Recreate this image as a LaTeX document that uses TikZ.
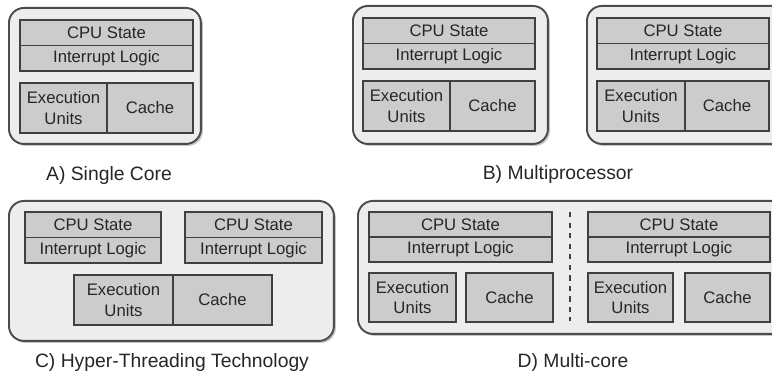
\documentclass[tikz,border=0pt]{standalone}
\usepackage{fontspec}
\setmainfont{Liberation Sans}
\usetikzlibrary{positioning,shadows}

\begin{document}
\begin{tikzpicture}[
    x=0.02cm, y=-0.02cm,
    unit/.style={draw=black!75,line width=1pt,fill=black!20,text=black!85,inner sep=0pt,outer sep=0pt,align=center,font=\fontsize{9.5}{11.5}\selectfont},
    state/.style={unit,minimum height=0.51cm},
    core/.style={unit,minimum height=1cm,anchor=north west},
    chip/.style={draw=black!70,line width=1.1pt,fill=black!7,rounded corners=0.3cm,anchor=north west,
        drop shadow={shadow xshift=0.04cm,shadow yshift=-0.04cm,fill=black!45}},
    caption/.style={text=black!85,font=\fontsize{11}{13}\selectfont},
    divider/.style={draw=black!75,line width=1.2pt,dash pattern=on 3pt off 3pt},
]
    \useasboundingbox (0,0) rectangle (772,375);
    \clip (0,0) rectangle (772,375);

    %single core
    \node[chip,minimum width=3.84cm,minimum height=2.72cm] (a) at (8,7) {};
    \node[state,minimum width=3.46cm,anchor=north west] (a-state) at (20,20) {CPU State};
    \node[state,minimum width=3.46cm,below=0pt of a-state] (a-int) {Interrupt Logic};
    \node[core,minimum width=1.74cm] (a-exec) at (20,83) {Execution\\Units};
    \node[core,minimum width=1.72cm,right=0pt of a-exec,anchor=west] (a-cache) {Cache};
    \node[caption] (a-cap) at (109,176) {A) Single Core};

    %multiprocessor
    \node[chip,minimum width=3.9cm,minimum height=2.76cm] (b1) at (352,5) {};
    \node[state,minimum width=3.44cm,anchor=north west] (b1-state) at (363,18) {CPU State};
    \node[state,minimum width=3.44cm,below=0pt of b1-state] (b1-int) {Interrupt Logic};
    \node[core,minimum width=1.74cm] (b1-exec) at (363,81) {Execution\\Units};
    \node[core,minimum width=1.7cm,right=0pt of b1-exec,anchor=west] (b1-cache) {Cache};

    \node[chip,minimum width=4cm,minimum height=2.76cm] (b2) at (586,5) {};
    \node[state,minimum width=3.44cm,anchor=north west] (b2-state) at (597,18) {CPU State};
    \node[state,minimum width=3.44cm,below=0pt of b2-state] (b2-int) {Interrupt Logic};
    \node[core,minimum width=1.76cm] (b2-exec) at (597,81) {Execution\\Units};
    \node[core,minimum width=1.68cm,right=0pt of b2-exec,anchor=west] (b2-cache) {Cache};
    \node[caption] (b-cap) at (558,175) {B) Multiprocessor};

    %hyper-threading
    \node[chip,minimum width=6.5cm,minimum height=2.8cm] (c) at (8,200) {};
    \node[state,minimum width=2.72cm,anchor=north west] (c-state1) at (25,212) {CPU State};
    \node[state,minimum width=2.72cm,below=0pt of c-state1] (c-int1) {Interrupt Logic};
    \node[state,minimum width=2.74cm,anchor=north west] (c-state2) at (185,212) {CPU State};
    \node[state,minimum width=2.74cm,below=0pt of c-state2] (c-int2) {Interrupt Logic};
    \node[core,minimum width=1.98cm] (c-exec) at (74,275) {Execution\\Units};
    \node[core,minimum width=1.98cm,right=0pt of c-exec,anchor=west] (c-cache) {Cache};
    \node[caption] (c-cap) at (172,363) {C) Hyper-Threading Technology};

    %multi-core
    \node[chip,minimum width=8.6cm,minimum height=2.66cm] (d) at (357,200) {};
    \node[state,minimum width=3.66cm,minimum height=0.5cm,anchor=north west] (d-state1) at (369,212) {CPU State};
    \node[state,minimum width=3.66cm,minimum height=0.5cm,below=0pt of d-state1] (d-int1) {Interrupt Logic};
    \node[core,minimum width=1.74cm,minimum height=0.98cm] (d-exec1) at (369,273) {Execution\\Units};
    \node[core,minimum width=1.74cm,minimum height=0.98cm,right=0.2cm of d-exec1,anchor=west] (d-cache1) {Cache};
    \node[state,minimum width=3.64cm,minimum height=0.5cm,anchor=north west] (d-state2) at (588,212) {CPU State};
    \node[state,minimum width=3.64cm,minimum height=0.5cm,below=0pt of d-state2] (d-int2) {Interrupt Logic};
    \node[core,minimum width=1.7cm,minimum height=0.98cm] (d-exec2) at (588,273) {Execution\\Units};
    \node[core,minimum width=1.7cm,minimum height=0.98cm,right=0.24cm of d-exec2,anchor=west] (d-cache2) {Cache};
    \coordinate (d-top) at (570,212);
    \coordinate (d-bot) at (570,321);
    \draw[divider] (d-top) -- (d-bot);
    \node[caption] (d-cap) at (573,362) {D) Multi-core};
\end{tikzpicture}
\end{document}
